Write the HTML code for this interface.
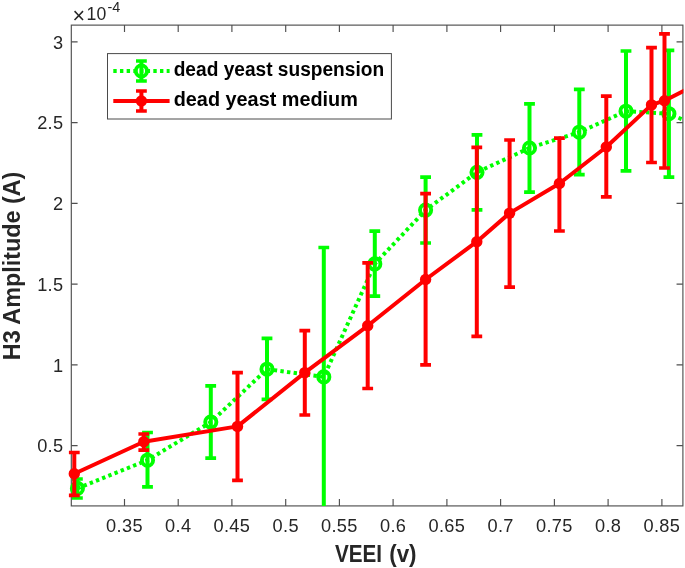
<!DOCTYPE html>
<html lang="en"><head><meta charset="utf-8"><title>H3 Amplitude vs VEEI</title>
<style>html,body{margin:0;padding:0;background:#fff;}svg{display:block;}text{font-family:"Liberation Sans",sans-serif;}.tk{font-size:18.2px;fill:#262626;letter-spacing:0.35px;}.lb{font-size:24.4px;font-weight:bold;fill:#262626;}.lg{font-size:20px;font-weight:bold;fill:#000;}</style></head><body>
<svg width="685" height="568" viewBox="0 0 685 568">
<rect x="0" y="0" width="685" height="568" fill="#ffffff"/>
<defs><clipPath id="ax"><rect x="65.30" y="25.12" width="618.05" height="480.93"/></clipPath></defs>
<g stroke="#4f4f4f" stroke-width="1.15" fill="none">
<rect x="71.3" y="25.12" width="611.6" height="480.8"/>
<path d="M124.5 505.95v-6.9M124.5 25.12v6.9M178.2 505.95v-6.9M178.2 25.12v6.9M231.9 505.95v-6.9M231.9 25.12v6.9M285.7 505.95v-6.9M285.7 25.12v6.9M339.4 505.95v-6.9M339.4 25.12v6.9M393.1 505.95v-6.9M393.1 25.12v6.9M446.9 505.95v-6.9M446.9 25.12v6.9M500.6 505.95v-6.9M500.6 25.12v6.9M554.4 505.95v-6.9M554.4 25.12v6.9M608.1 505.95v-6.9M608.1 25.12v6.9M661.9 505.95v-6.9M661.9 25.12v6.9M71.3 445.6h6.3M682.85 445.6h-6.3M71.3 364.9h6.3M682.85 364.9h-6.3M71.3 284.1h6.3M682.85 284.1h-6.3M71.3 203.4h6.3M682.85 203.4h-6.3M71.3 122.6h6.3M682.85 122.6h-6.3M71.3 41.9h6.3M682.85 41.9h-6.3"/>
</g>
<g clip-path="url(#ax)">
<path d="M77.4 479.0V498.0M147.5 432.5V486.9M210.8 385.9V458.2M267.0 338.4V399.3M323.8 247.5V640.0M374.8 231.1V296.2M425.6 177.2V243.0M477.0 134.8V209.8M529.5 103.8V192.1M579.3 89.3V174.6M626.0 51.0V170.8M668.9 50.3V177.2" stroke="#00ff00" stroke-width="4.0" fill="none"/><path d="M72.0 479.0h10.8M72.0 498.0h10.8M142.1 432.5h10.8M142.1 486.9h10.8M205.3 385.9h10.8M205.3 458.2h10.8M261.6 338.4h10.8M261.6 399.3h10.8M318.4 247.5h10.8M318.4 640.0h10.8M369.4 231.1h10.8M369.4 296.2h10.8M420.2 177.2h10.8M420.2 243.0h10.8M471.6 134.8h10.8M471.6 209.8h10.8M524.1 103.8h10.8M524.1 192.1h10.8M573.9 89.3h10.8M573.9 174.6h10.8M620.6 51.0h10.8M620.6 170.8h10.8M663.5 50.3h10.8M663.5 177.2h10.8" stroke="#00ff00" stroke-width="3.7" fill="none"/>
<polyline points="77.4,488.4 147.5,460.2 210.8,422.1 267.0,369.2 323.8,376.9 374.8,263.9 425.6,210.1 477.0,172.3 529.5,148.0 579.3,132.2 626.0,111.2 668.9,113.7 700,126.9" stroke="#00ff00" stroke-width="4.0" stroke-dasharray="3.4 3.27" fill="none"/>
<circle cx="77.4" cy="488.4" r="5.6" stroke="#00ff00" stroke-width="3.9" fill="none"/>
<circle cx="147.5" cy="460.2" r="5.6" stroke="#00ff00" stroke-width="3.9" fill="none"/>
<circle cx="210.8" cy="422.1" r="5.6" stroke="#00ff00" stroke-width="3.9" fill="none"/>
<circle cx="267.0" cy="369.2" r="5.6" stroke="#00ff00" stroke-width="3.9" fill="none"/>
<circle cx="323.8" cy="376.9" r="5.6" stroke="#00ff00" stroke-width="3.9" fill="none"/>
<circle cx="374.8" cy="263.9" r="5.6" stroke="#00ff00" stroke-width="3.9" fill="none"/>
<circle cx="425.6" cy="210.1" r="5.6" stroke="#00ff00" stroke-width="3.9" fill="none"/>
<circle cx="477.0" cy="172.3" r="5.6" stroke="#00ff00" stroke-width="3.9" fill="none"/>
<circle cx="529.5" cy="148.0" r="5.6" stroke="#00ff00" stroke-width="3.9" fill="none"/>
<circle cx="579.3" cy="132.2" r="5.6" stroke="#00ff00" stroke-width="3.9" fill="none"/>
<circle cx="626.0" cy="111.2" r="5.6" stroke="#00ff00" stroke-width="3.9" fill="none"/>
<circle cx="668.9" cy="113.7" r="5.6" stroke="#00ff00" stroke-width="3.9" fill="none"/>
<path d="M74.3 452.5V495.3M143.8 434.0V450.1M237.5 372.6V480.3M304.8 330.7V415.0M367.7 262.9V388.5M425.6 193.7V364.8M476.8 147.3V336.4M509.6 140.0V287.2M559.4 138.2V231.0M606.3 96.1V196.9M651.5 47.6V162.5M664.5 33.9V168.0" stroke="#ff0000" stroke-width="4.0" fill="none"/><path d="M68.9 452.5h10.8M68.9 495.3h10.8M138.4 434.0h10.8M138.4 450.1h10.8M232.1 372.6h10.8M232.1 480.3h10.8M299.4 330.7h10.8M299.4 415.0h10.8M362.3 262.9h10.8M362.3 388.5h10.8M420.2 193.7h10.8M420.2 364.8h10.8M471.4 147.3h10.8M471.4 336.4h10.8M504.2 140.0h10.8M504.2 287.2h10.8M554.0 138.2h10.8M554.0 231.0h10.8M600.9 96.1h10.8M600.9 196.9h10.8M646.1 47.6h10.8M646.1 162.5h10.8M659.1 33.9h10.8M659.1 168.0h10.8" stroke="#ff0000" stroke-width="3.7" fill="none"/>
<polyline points="74.3,473.8 143.8,441.8 237.5,426.4 304.8,372.6 367.7,325.8 425.6,279.5 476.8,241.7 509.6,213.1 559.4,183.5 606.3,147.0 651.5,104.9 664.5,100.7 700,82.6" stroke="#ff0000" stroke-width="4.0" stroke-linejoin="round" fill="none"/>
<circle cx="74.3" cy="473.8" r="5.7" fill="#ff0000"/>
<circle cx="143.8" cy="441.8" r="5.7" fill="#ff0000"/>
<circle cx="237.5" cy="426.4" r="5.7" fill="#ff0000"/>
<circle cx="304.8" cy="372.6" r="5.7" fill="#ff0000"/>
<circle cx="367.7" cy="325.8" r="5.7" fill="#ff0000"/>
<circle cx="425.6" cy="279.5" r="5.7" fill="#ff0000"/>
<circle cx="476.8" cy="241.7" r="5.7" fill="#ff0000"/>
<circle cx="509.6" cy="213.1" r="5.7" fill="#ff0000"/>
<circle cx="559.4" cy="183.5" r="5.7" fill="#ff0000"/>
<circle cx="606.3" cy="147.0" r="5.7" fill="#ff0000"/>
<circle cx="651.5" cy="104.9" r="5.7" fill="#ff0000"/>
<circle cx="664.5" cy="100.7" r="5.7" fill="#ff0000"/>
</g>
<text class="tk" x="124.5" y="532.2" text-anchor="middle">0.35</text>
<text class="tk" x="178.2" y="532.2" text-anchor="middle">0.4</text>
<text class="tk" x="231.9" y="532.2" text-anchor="middle">0.45</text>
<text class="tk" x="285.7" y="532.2" text-anchor="middle">0.5</text>
<text class="tk" x="339.4" y="532.2" text-anchor="middle">0.55</text>
<text class="tk" x="393.1" y="532.2" text-anchor="middle">0.6</text>
<text class="tk" x="446.9" y="532.2" text-anchor="middle">0.65</text>
<text class="tk" x="500.6" y="532.2" text-anchor="middle">0.7</text>
<text class="tk" x="554.4" y="532.2" text-anchor="middle">0.75</text>
<text class="tk" x="608.1" y="532.2" text-anchor="middle">0.8</text>
<text class="tk" x="661.9" y="532.2" text-anchor="middle">0.85</text>
<text class="tk" x="63.5" y="452.4" text-anchor="end">0.5</text>
<text class="tk" x="63.5" y="371.7" text-anchor="end">1</text>
<text class="tk" x="63.5" y="290.9" text-anchor="end">1.5</text>
<text class="tk" x="63.5" y="210.2" text-anchor="end">2</text>
<text class="tk" x="63.5" y="129.4" text-anchor="end">2.5</text>
<text class="tk" x="63.5" y="48.7" text-anchor="end">3</text>
<text class="tk" x="72.6" y="23.0" style="font-size:21.5px">×</text>
<text class="tk" x="86.6" y="19.7" style="font-size:18.3px;letter-spacing:0" textLength="19.6" lengthAdjust="spacingAndGlyphs">10</text>
<text class="tk" x="107.4" y="11.5" style="font-size:14.4px;letter-spacing:0">-4</text>
<text class="lb" x="334.9" y="561.6"><tspan textLength="52.8" lengthAdjust="spacingAndGlyphs">VEEI </tspan><tspan x="389.2" textLength="27.4" lengthAdjust="spacingAndGlyphs">(v)</tspan></text>
<text class="lb" transform="translate(19.7 265.9) rotate(-90)" text-anchor="middle" textLength="188.5" lengthAdjust="spacingAndGlyphs">H3 Amplitude (A)</text>
<rect x="107.5" y="53.6" width="283.9" height="65.4" fill="#fff" stroke="#4a4a4a" stroke-width="1"/>
<path d="M141.4 61.0V81.0" stroke="#00ff00" stroke-width="4.0"/>
<path d="M136.0 61.0h10.8M136.0 81.0h10.8" stroke="#00ff00" stroke-width="3.7"/>
<path d="M113.3 71.0H169.6" stroke="#00ff00" stroke-width="4.0" stroke-dasharray="3.4 3.27"/>
<circle cx="141.4" cy="71.0" r="5.6" stroke="#00ff00" stroke-width="3.9" fill="none"/>
<path d="M141.4 91.0V111.0" stroke="#ff0000" stroke-width="4.0"/>
<path d="M136.0 91.0h10.8M136.0 111.0h10.8" stroke="#ff0000" stroke-width="3.7"/>
<path d="M113.3 101.0H169.6" stroke="#ff0000" stroke-width="4.0"/>
<circle cx="141.4" cy="101.0" r="5.7" fill="#ff0000"/>
<text class="lg" x="173.7" y="75.9" textLength="210.4" lengthAdjust="spacingAndGlyphs">dead yeast suspension</text>
<text class="lg" x="173.7" y="105.8" textLength="184.2" lengthAdjust="spacingAndGlyphs">dead yeast medium</text>
</svg></body></html>
